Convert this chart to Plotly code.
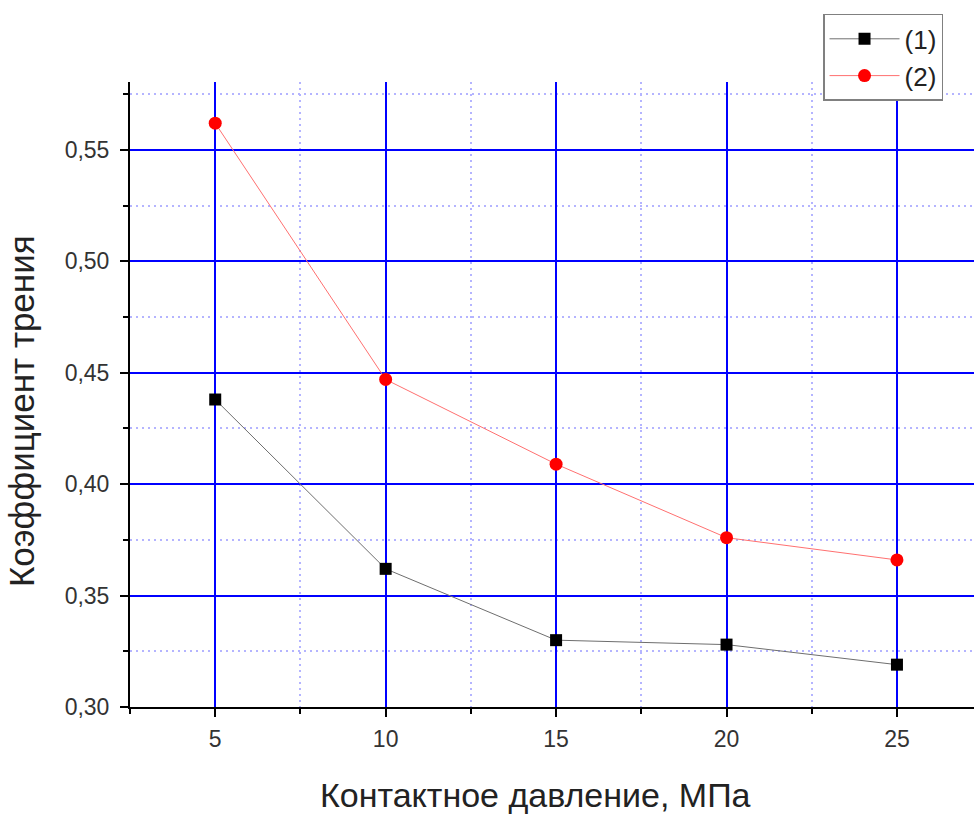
import plotly.graph_objects as go

pressure = [5, 10, 15, 20, 25]
friction_1 = [0.438, 0.362, 0.330, 0.328, 0.319]
friction_2 = [0.562, 0.447, 0.409, 0.376, 0.366]
series_names = ["(1)", "(2)"]
x_title = "Контактное давление, МПа"
y_title = "Коэффициент трения"

FONT = "Liberation Sans, Arial, sans-serif"

fig = go.Figure()
fig.add_trace(go.Scatter(
    x=pressure, y=friction_1, name=series_names[0], mode="lines+markers",
    line=dict(color="#6e6e6e", width=1),
    marker=dict(symbol="square", size=12, color="black"),
    legendgroup="g1",
))
fig.add_trace(go.Scatter(
    x=pressure, y=friction_2, name=series_names[1], mode="lines+markers",
    line=dict(color="#ff7070", width=1),
    marker=dict(symbol="circle", size=13, color="#ff0000"),
    legendgroup="g2",
))

axis_common = dict(
    showline=True, linecolor="black", linewidth=2,
    ticks="outside", ticklen=8, tickwidth=2, tickcolor="black",
    showgrid=True, gridcolor="#0000ff", gridwidth=2,
    zeroline=False, automargin=False,
    tickfont=dict(family=FONT, size=23, color="#333333"),
)

minor_common = dict(ticks="outside", ticklen=5, tickwidth=2, tickcolor="black",
                    showgrid=True, gridcolor="#b4b4ff", griddash="2px,4px",
                    gridwidth=1.5)

fig.update_xaxes(
    **axis_common,
    range=[2.5, 27.26], tickvals=pressure,
    minor=dict(tickvals=[2.5, 7.5, 12.5, 17.5, 22.5], **minor_common),
    ticklabelstandoff=2,
)
fig.update_yaxes(
    **axis_common,
    range=[0.30, 0.5805], tickvals=[0.30, 0.35, 0.40, 0.45, 0.50, 0.55],
    tickformat=".2f",
    minor=dict(tickvals=[0.325, 0.375, 0.425, 0.475, 0.525, 0.575], **minor_common),
    ticklabelstandoff=6,
)

fig.update_layout(
    width=974, height=818,
    margin=dict(l=130, r=0, t=82, b=111, autoexpand=False),
    paper_bgcolor="white", plot_bgcolor="white",
    separators=", ",
    font=dict(family=FONT, color="#222222"),
    legend=dict(
        xref="container", yref="container",
        x=0.845, y=0.983, xanchor="left", yanchor="top",
        bordercolor="#808080", borderwidth=1.5, bgcolor="white",
        font=dict(family=FONT, size=26, color="#222222"),
        itemwidth=70,
        tracegroupgap=0,
    ),
    annotations=[
        dict(text=x_title, xref="paper", yref="paper", x=0.481, y=-0.141,
             showarrow=False, font=dict(family=FONT, size=34, color="#222222"),
             xanchor="center", yanchor="middle"),
        dict(text=y_title, xref="paper", yref="paper", x=-0.129, y=0.4736,
             showarrow=False, textangle=-90,
             font=dict(family=FONT, size=35, color="#222222"),
             xanchor="center", yanchor="middle"),
    ],
)

fig.write_html(
    "out.html",
    config={"displayModeBar": False},
    post_script="document.body.style.margin='0';document.body.style.overflow='hidden';",
)
